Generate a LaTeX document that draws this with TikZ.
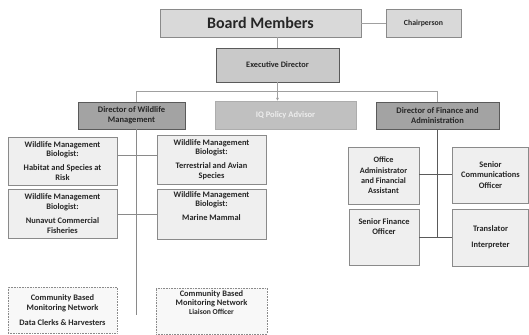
\documentclass[tikz,border=0pt]{standalone}
\usepackage{fontspec}
\setmainfont{Carlito}
\usetikzlibrary{arrows.meta}
\definecolor{boardfill}{HTML}{D9D9D9}
\definecolor{execfill}{HTML}{C9C9C9}
\definecolor{dirfill}{HTML}{A3A3A3}
\definecolor{iqfill}{HTML}{C0C0C0}
\definecolor{iqtext}{HTML}{EDEDED}
\definecolor{childfill}{HTML}{EFEFEF}
\definecolor{dotfill}{HTML}{F8F8F8}
\definecolor{edge}{HTML}{8A8A8A}
\definecolor{darkedge}{HTML}{5A5A5A}
\definecolor{linkgray}{HTML}{A0A0A0}
\definecolor{txt}{HTML}{262626}
\tikzset{
  base/.style={rectangle, inner sep=1pt, align=center, font=\bfseries\fontsize{8.4}{9.6}\selectfont, text=txt},
  boardbox/.style={base, draw=edge, fill=boardfill, line width=0.8pt},
  execbox/.style={base, draw=darkedge, fill=execfill, line width=0.8pt, font=\bfseries\fontsize{8.3}{10}\selectfont},
  dirbox/.style={base, draw=darkedge, fill=dirfill, line width=0.8pt, font=\bfseries\fontsize{8.5}{9.8}\selectfont},
  iqbox/.style={base, fill=iqfill, text=iqtext, draw=iqfill!90!black, line width=0.4pt, font=\bfseries\fontsize{8.5}{10}\selectfont},
  childbox/.style={base, draw=edge, fill=childfill, line width=0.8pt},
  dotbox/.style={base, draw=edge, fill=dotfill, densely dotted, line width=0.6pt},
  link/.style={draw=linkgray, line width=0.8pt},
  darklink/.style={draw=darkedge, line width=0.8pt},
}
\begin{document}
\begin{tikzpicture}[x=1pt,y=-1pt]
\useasboundingbox (0,0) rectangle (529,334);
% top
\node[boardbox, minimum width=201, minimum height=28, font=\bfseries\fontsize{16}{18}\selectfont] (board) at (260.5,23) {Board Members};
\node[boardbox, minimum width=75, minimum height=28, font=\bfseries\fontsize{7.8}{9}\selectfont] (chair) at (423.5,23) {Chairperson};
\node[execbox, minimum width=123, minimum height=34] (exec) at (277.5,65) {Executive Director};
% directors
\node[dirbox, minimum width=107, minimum height=27] (dirw) at (131.5,115.5) {Director of Wildlife\\Management};
\node[iqbox, minimum width=141, minimum height=28] (iq) at (285.5,115) {IQ Policy Advisor};
\node[dirbox, minimum width=123, minimum height=27] (dirf) at (437.5,115.5) {Director of Finance and\\Administration};
% wildlife column
\node[childbox, minimum width=109, minimum height=48] (hab) at (62.5,161) {Wildlife Management\\Biologist:\\[4.5pt]Habitat and Species at\\Risk};
\node[childbox, minimum width=109, minimum height=49] (ter) at (211.5,159.5) {Wildlife Management\\Biologist:\\[4.5pt]Terrestrial and Avian\\Species};
\node[childbox, minimum width=109, minimum height=49] (nun) at (62.5,213.5) {Wildlife Management\\Biologist:\\[4.5pt]Nunavut Commercial\\Fisheries};
\node[childbox, minimum width=109, minimum height=50] (mar) at (211.5,214) {Wildlife Management\\Biologist:\\[4.5pt]Marine Mammal\\[6pt]};
\node[dotbox, minimum width=109, minimum height=46] (clerk) at (62.5,310) {Community Based\\Monitoring Network\\[5pt]Data Clerks \& Harvesters};
\node[dotbox, minimum width=111, minimum height=46, font=\bfseries\fontsize{8.4}{9}\selectfont] (liai) at (211.5,311) {Community Based\\Monitoring Network\\{\fontsize{7.6}{9}\selectfont Liaison Officer}\\[8pt]};
% finance column
\node[childbox, minimum width=71, minimum height=57, font=\bfseries\fontsize{8.2}{10.3}\selectfont] (offa) at (383.5,175.5) {Office\\Administrator\\and Financial\\Assistant};
\node[childbox, minimum width=76, minimum height=56, font=\bfseries\fontsize{8.4}{10.5}\selectfont] (comm) at (490.5,175) {Senior\\Communications\\Officer};
\node[childbox, minimum width=70, minimum height=56, font=\bfseries\fontsize{8.4}{10}\selectfont] (sfin) at (384,237) {Senior Finance\\Officer\\[10pt]};
\node[childbox, minimum width=76, minimum height=57, font=\bfseries\fontsize{8.4}{10}\selectfont] (trans) at (490.5,237.5) {Translator\\[6pt]Interpreter};
% helper coordinates
\coordinate (bus) at (277.5,91);
\coordinate (wx) at (136.5,0);
\coordinate (wbottom) at (136.5,315);
\coordinate (fbottom) at (437.5,237);
\coordinate (y1) at (0,155);
\coordinate (y2) at (0,214);
\coordinate (y3) at (0,174);
\coordinate (y4) at (0,237);
% connectors
\draw[link] (board) -- (chair);
\draw[link] (board.south -| exec.north) -- (exec.north);
\draw[link] (exec.south) -- (bus);
\draw[link] (bus -| wx) -- (bus -| dirf.north);
\draw[link] (bus -| wx) -- (dirw.north -| wx);
\draw[link] (bus -| dirf.north) -- (dirf.north);
\draw[link, -{Latex[length=3pt,width=3pt]}] (bus) -- (bus |- iq.north);
\draw[link, draw=edge] (dirw.south -| wx) -- (wbottom);
\draw[link, draw=edge] (hab.east |- y1) -- (ter.west |- y1);
\draw[link, draw=edge] (nun.east |- y2) -- (mar.west |- y2);
\draw[darklink] (dirf.south) -- (fbottom);
\draw[darklink] (offa.east |- y3) -- (comm.west |- y3);
\draw[darklink] (sfin.east |- y4) -- (trans.west |- y4);
\end{tikzpicture}
\end{document}
